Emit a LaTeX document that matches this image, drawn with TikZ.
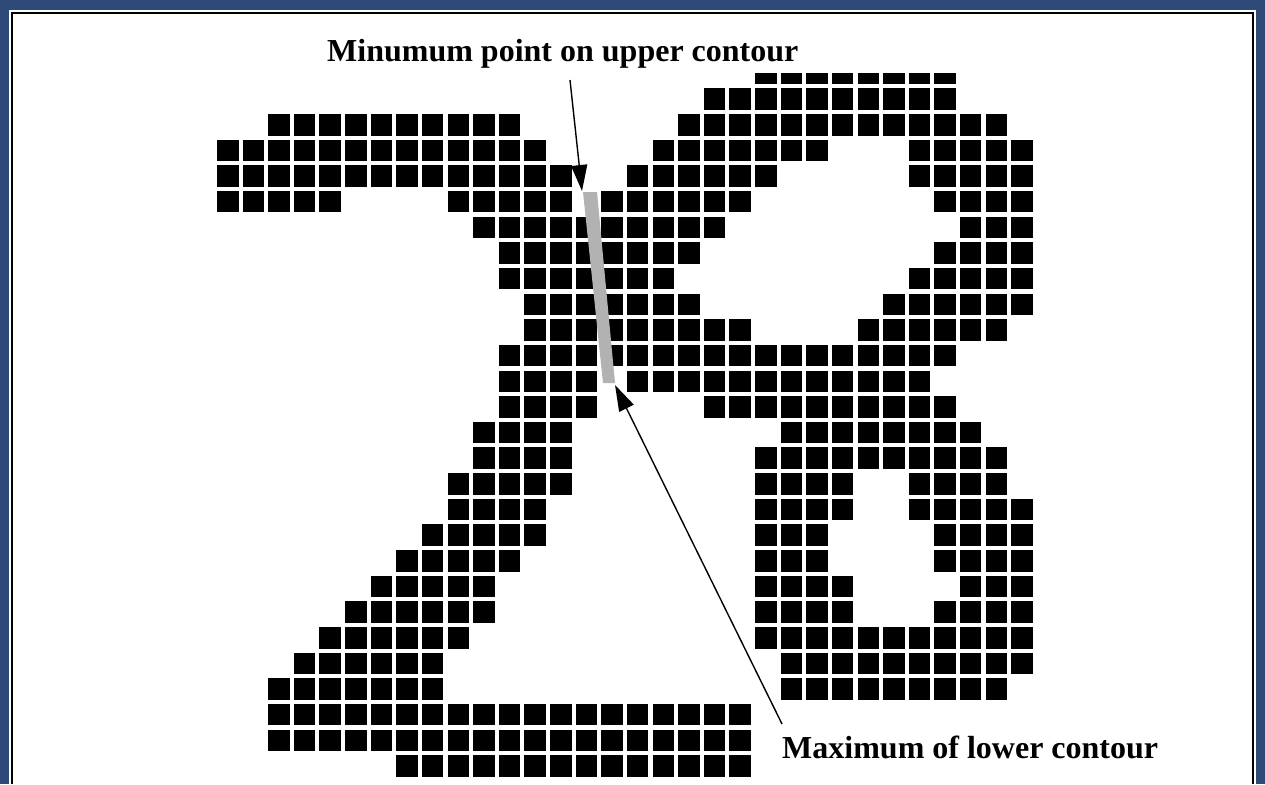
\documentclass[tikz,border=0pt]{standalone}
\usepackage{fontspec}
\setmainfont{Liberation Serif}
\usetikzlibrary{arrows.meta}
\definecolor{winblue}{RGB}{47,74,120}
\definecolor{cutgray}{RGB}{178,178,178}
\tikzset{
  cellbox/.style={fill=black},
  labeltext/.style={font=\bfseries\fontsize{32}{36}\selectfont, inner sep=0pt, anchor=base west},
  pointer/.style={line width=1.4pt, -{Triangle[length=26pt,width=16pt]}}
}
\begin{document}
\begin{tikzpicture}[x=1pt,y=-1pt]
\useasboundingbox (0,0) rectangle (1265,784);
% window frame
\fill[winblue] (0,0) rectangle (1265,784);
\fill[white] (9,10) rectangle (1256,784);
\draw[line width=1.6pt] (12,784) -- (12,13) -- (1253,13) -- (1253,784);
% thin top row
\foreach \c in {21,...,28}
  \fill[cellbox] ({217+25.62*\c},72.7) rectangle ++(21.5,11.5);
% cells
\foreach \k/\a/\b in {
  1/19/28,
  2/2/11, 2/18/30,
  3/0/12, 3/17/23, 3/27/31,
  4/0/13, 4/16/21, 4/27/31,
  5/0/4, 5/9/13, 5/15/20, 5/28/31,
  6/10/19, 6/29/31,
  7/11/18, 7/28/31,
  8/11/17, 8/27/31,
  9/12/18, 9/26/31,
  10/12/20, 10/25/30,
  11/11/28,
  12/11/14, 12/16/27,
  13/11/14, 13/19/28,
  14/10/13, 14/22/29,
  15/10/13, 15/21/30,
  16/9/13, 16/21/24, 16/27/30,
  17/9/12, 17/21/24, 17/27/31,
  18/8/12, 18/21/23, 18/28/31,
  19/7/11, 19/21/23, 19/28/31,
  20/6/10, 20/21/24, 20/29/31,
  21/5/10, 21/21/24, 21/28/31,
  22/4/9, 22/21/31,
  23/3/8, 23/22/31,
  24/2/8, 24/22/30,
  25/2/20,
  26/2/20,
  27/7/20}
  \foreach \c in {\a,...,\b}
    \fill[cellbox] ({217+25.62*\c},{62.7+25.65*\k}) rectangle ++(21.5,21.5);
% cut segment
\fill[cutgray] (583,192) -- (597,192) -- (615,383) -- (603,383) -- cycle;
% labels
\node[labeltext] (upper) at (327,61.7) {Minumum point on upper contour};
\node[labeltext] (lower) at (782,758) {Maximum of lower contour};
\coordinate (ustart) at (570,80);
\coordinate (utip) at (582,191);
\coordinate (lstart) at (782,724);
\coordinate (ltip) at (615,385);
\draw[pointer] (ustart) -- (utip);
\draw[pointer] (lstart) -- (ltip);
\end{tikzpicture}
\end{document}
